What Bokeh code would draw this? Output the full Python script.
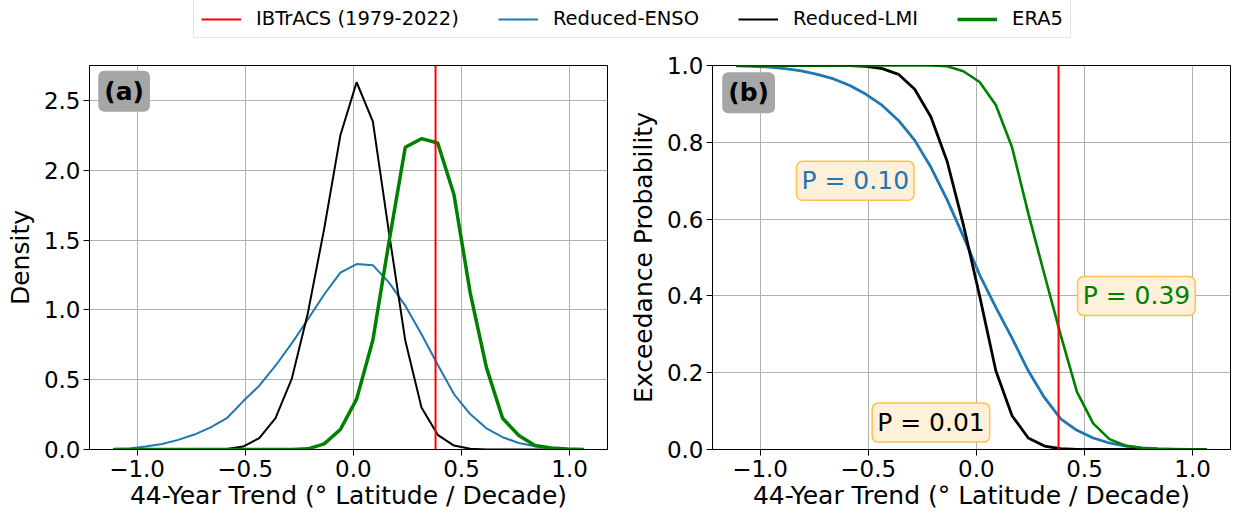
from bokeh.plotting import figure
from bokeh.models import (Range1d, Span, Label, Legend, LegendItem, FixedTicker,
                          CustomJSTickFormatter, ColumnDataSource)
from bokeh.layouts import column, row
from bokeh.embed import file_html
from bokeh.resources import INLINE

# ---------------- data ----------------
trend = [-1.11, -1.035, -0.96, -0.885, -0.81, -0.735, -0.66, -0.585, -0.51, -0.435,
         -0.36, -0.285, -0.21, -0.135, -0.06, 0.015, 0.09, 0.165, 0.24, 0.315,
         0.39, 0.465, 0.54, 0.615, 0.69, 0.765, 0.84, 0.915, 0.99, 1.065]

enso_density = [0.003, 0.008, 0.021, 0.040, 0.069, 0.107, 0.159, 0.224, 0.345, 0.457,
                0.600, 0.760, 0.933, 1.110, 1.266, 1.328, 1.320, 1.195, 1.030, 0.826,
                0.607, 0.397, 0.254, 0.152, 0.088, 0.047, 0.024, 0.010, 0.004, 0.001]
lmi_density = [0.0, 0.0, 0.0, 0.0, 0.0, 0.0, 0.0, 0.003, 0.021, 0.081,
               0.224, 0.505, 0.980, 1.580, 2.250, 2.630, 2.350, 1.550, 0.780, 0.300,
               0.105, 0.028, 0.006, 0.0, 0.0, 0.0, 0.0, 0.0, 0.0, 0.0]
era5_density = [0.0, 0.0, 0.0, 0.0, 0.0, 0.0, 0.0, 0.0, 0.0, 0.0,
                0.0, 0.0, 0.005, 0.040, 0.143, 0.361, 0.783, 1.490, 2.164, 2.226,
                2.195, 1.826, 1.124, 0.588, 0.224, 0.100, 0.028, 0.010, 0.003, 0.0]

enso_exceed = [0.999, 0.998, 0.996, 0.992, 0.986, 0.977, 0.965, 0.948, 0.925, 0.896,
               0.857, 0.805, 0.735, 0.650, 0.555, 0.455, 0.370, 0.290, 0.205, 0.135,
               0.080, 0.050, 0.030, 0.017, 0.009, 0.004, 0.002, 0.001, 0.0, 0.0]
lmi_exceed = [1.0, 1.0, 1.0, 1.0, 1.0, 1.0, 1.0, 1.0, 0.998, 0.992,
              0.977, 0.938, 0.866, 0.750, 0.585, 0.400, 0.205, 0.088, 0.030, 0.009,
              0.002, 0.0, 0.0, 0.0, 0.0, 0.0, 0.0, 0.0, 0.0, 0.0]
era5_exceed = [1.0, 1.0, 1.0, 1.0, 1.0, 1.0, 1.0, 1.0, 1.0, 1.0,
               1.0, 1.0, 1.0, 0.998, 0.985, 0.957, 0.897, 0.787, 0.615, 0.455,
               0.298, 0.150, 0.068, 0.027, 0.010, 0.004, 0.001, 0.0, 0.0, 0.0]

ibtracs_trend = 0.38

series_names = ["IBTrACS (1979-2022)", "Reduced-ENSO", "Reduced-LMI", "ERA5"]
series_colors = ["#ff0000", "#1f77b4", "#000000", "#008000"]

p_texts = ["P = 0.10", "P = 0.01", "P = 0.39"]
p_colors = ["#1f77b4", "#000000", "#008000"]
p_x = [-0.56, -0.21, 0.74]
p_y = [0.70, 0.07, 0.40]

x_ticks = [-1.0, -0.5, 0.0, 0.5, 1.0]
y_ticks_a = [0.0, 0.5, 1.0, 1.5, 2.0, 2.5]
y_ticks_b = [0.0, 0.2, 0.4, 0.6, 0.8, 1.0]

FONT = "DejaVu Sans"
XLIM = (-1.22, 1.175)

src = ColumnDataSource(dict(x=trend, ed=enso_density, ld=lmi_density, gd=era5_density,
                            ee=enso_exceed, le=lmi_exceed, ge=era5_exceed))

fmt_code = "return (tick < -1e-9 ? '\u2212' : '') + Math.abs(tick).toFixed(1);"


def style(p, yticks, ylabel):
    p.x_range = Range1d(*XLIM)
    for ax in (p.xaxis[0], p.yaxis[0]):
        ax.major_label_text_font = FONT
        ax.major_label_text_font_size = "23px"
        ax.major_label_text_color = "black"
        ax.axis_label_text_font = FONT
        ax.axis_label_text_font_size = "25px"
        ax.axis_label_text_font_style = "normal"
        ax.axis_label_text_color = "black"
        ax.axis_line_color = "black"
        ax.major_tick_line_color = "black"
        ax.major_tick_out = 6
        ax.major_tick_in = 0
        ax.minor_tick_line_color = None
        ax.formatter = CustomJSTickFormatter(code=fmt_code)
    p.xaxis.ticker = FixedTicker(ticks=x_ticks)
    p.yaxis.ticker = FixedTicker(ticks=yticks)
    p.xaxis.axis_label = "44-Year Trend (\u00b0 Latitude / Decade)"
    p.yaxis.axis_label = ylabel
    p.xaxis.major_label_standoff = 4
    p.xaxis.axis_label_standoff = 1
    p.yaxis.major_label_standoff = 3
    p.yaxis.axis_label_standoff = 6
    p.grid.grid_line_color = "#b0b0b0"
    p.grid.grid_line_width = 1
    p.outline_line_color = "black"
    p.outline_line_alpha = 1
    p.outline_line_width = 1
    p.background_fill_color = "white"
    p.border_fill_color = "white"


# ---------------- legend strip ----------------
leg = figure(width=1234, height=40, toolbar_location=None, output_backend="svg",
             x_range=Range1d(0, 1), y_range=Range1d(0, 1),
             min_border_left=0, min_border_right=0, min_border_top=0, min_border_bottom=0)
leg.axis.visible = False
leg.grid.visible = False
leg.outline_line_color = None
leg_widths = [2, 2, 2, 3.5]
items = []
for name, col, lw in zip(series_names, series_colors, leg_widths):
    # placeholder renderer (outside the visible range) so the legend can draw its sample line
    r = leg.line(x=[0.0, 1.0], y=[-5.0, -5.0], line_color=col, line_width=lw)
    items.append(LegendItem(label=name, renderers=[r]))
legend = Legend(items=items, orientation="horizontal", location=(193, 2),
                label_text_font=FONT, label_text_font_size="19.5px", label_text_color="black",
                glyph_width=40, glyph_height=20, label_standoff=15, spacing=39,
                padding=7, margin=0, border_line_color="#cccccc", border_line_width=1,
                background_fill_color="white", background_fill_alpha=1)
leg.add_layout(legend)

# ---------------- panel (a) ----------------
pa = figure(width=615, height=476, toolbar_location=None, output_backend="svg",
            y_range=Range1d(0, 2.75),
            min_border_left=89, min_border_right=8, min_border_top=25, min_border_bottom=67)
style(pa, y_ticks_a, "Density")
pa.line("x", "ed", source=src, line_color=series_colors[1], line_width=2)
pa.line("x", "ld", source=src, line_color=series_colors[2], line_width=2)
pa.line("x", "gd", source=src, line_color=series_colors[3], line_width=3.5)
pa.add_layout(Span(location=ibtracs_trend, dimension="height", line_color="red", line_width=2))
pa.add_layout(Label(x=-1.06, y=2.566, text="(a)", text_font=FONT, text_font_style="bold",
                    text_font_size="25px", text_color="black", text_align="center",
                    text_baseline="middle", background_fill_color="#a6a6a6",
                    background_fill_alpha=1, border_radius=6, padding=6))

# ---------------- panel (b) ----------------
pb = figure(width=619, height=476, toolbar_location=None, output_backend="svg",
            y_range=Range1d(0, 1.0),
            min_border_left=97, min_border_right=4, min_border_top=25, min_border_bottom=67)
style(pb, y_ticks_b, "Exceedance Probability")
pb.line("x", "ee", source=src, line_color=series_colors[1], line_width=2.8)
pb.line("x", "le", source=src, line_color=series_colors[2], line_width=2.8)
pb.line("x", "ge", source=src, line_color=series_colors[3], line_width=2.6)
pb.add_layout(Span(location=ibtracs_trend, dimension="height", line_color="red", line_width=2))
pb.add_layout(Label(x=-1.053, y=0.929, text="(b)", text_font=FONT, text_font_style="bold",
                    text_font_size="25px", text_color="black", text_align="center",
                    text_baseline="middle", background_fill_color="#a6a6a6",
                    background_fill_alpha=1, border_radius=6, padding=6))
for t, c, x, y in zip(p_texts, p_colors, p_x, p_y):
    pb.add_layout(Label(x=x, y=y, text=t, text_font=FONT, text_font_size="25px",
                        text_color=c, text_align="center", text_baseline="middle",
                        background_fill_color="#fff0da", background_fill_alpha=1,
                        border_line_color="#ffc04d", border_line_width=1.5,
                        border_radius=6, padding=5))

layout = column(leg, row(pa, pb))
with open("out.html", "w", encoding="utf-8") as f:
    f.write(file_html(layout, INLINE))
